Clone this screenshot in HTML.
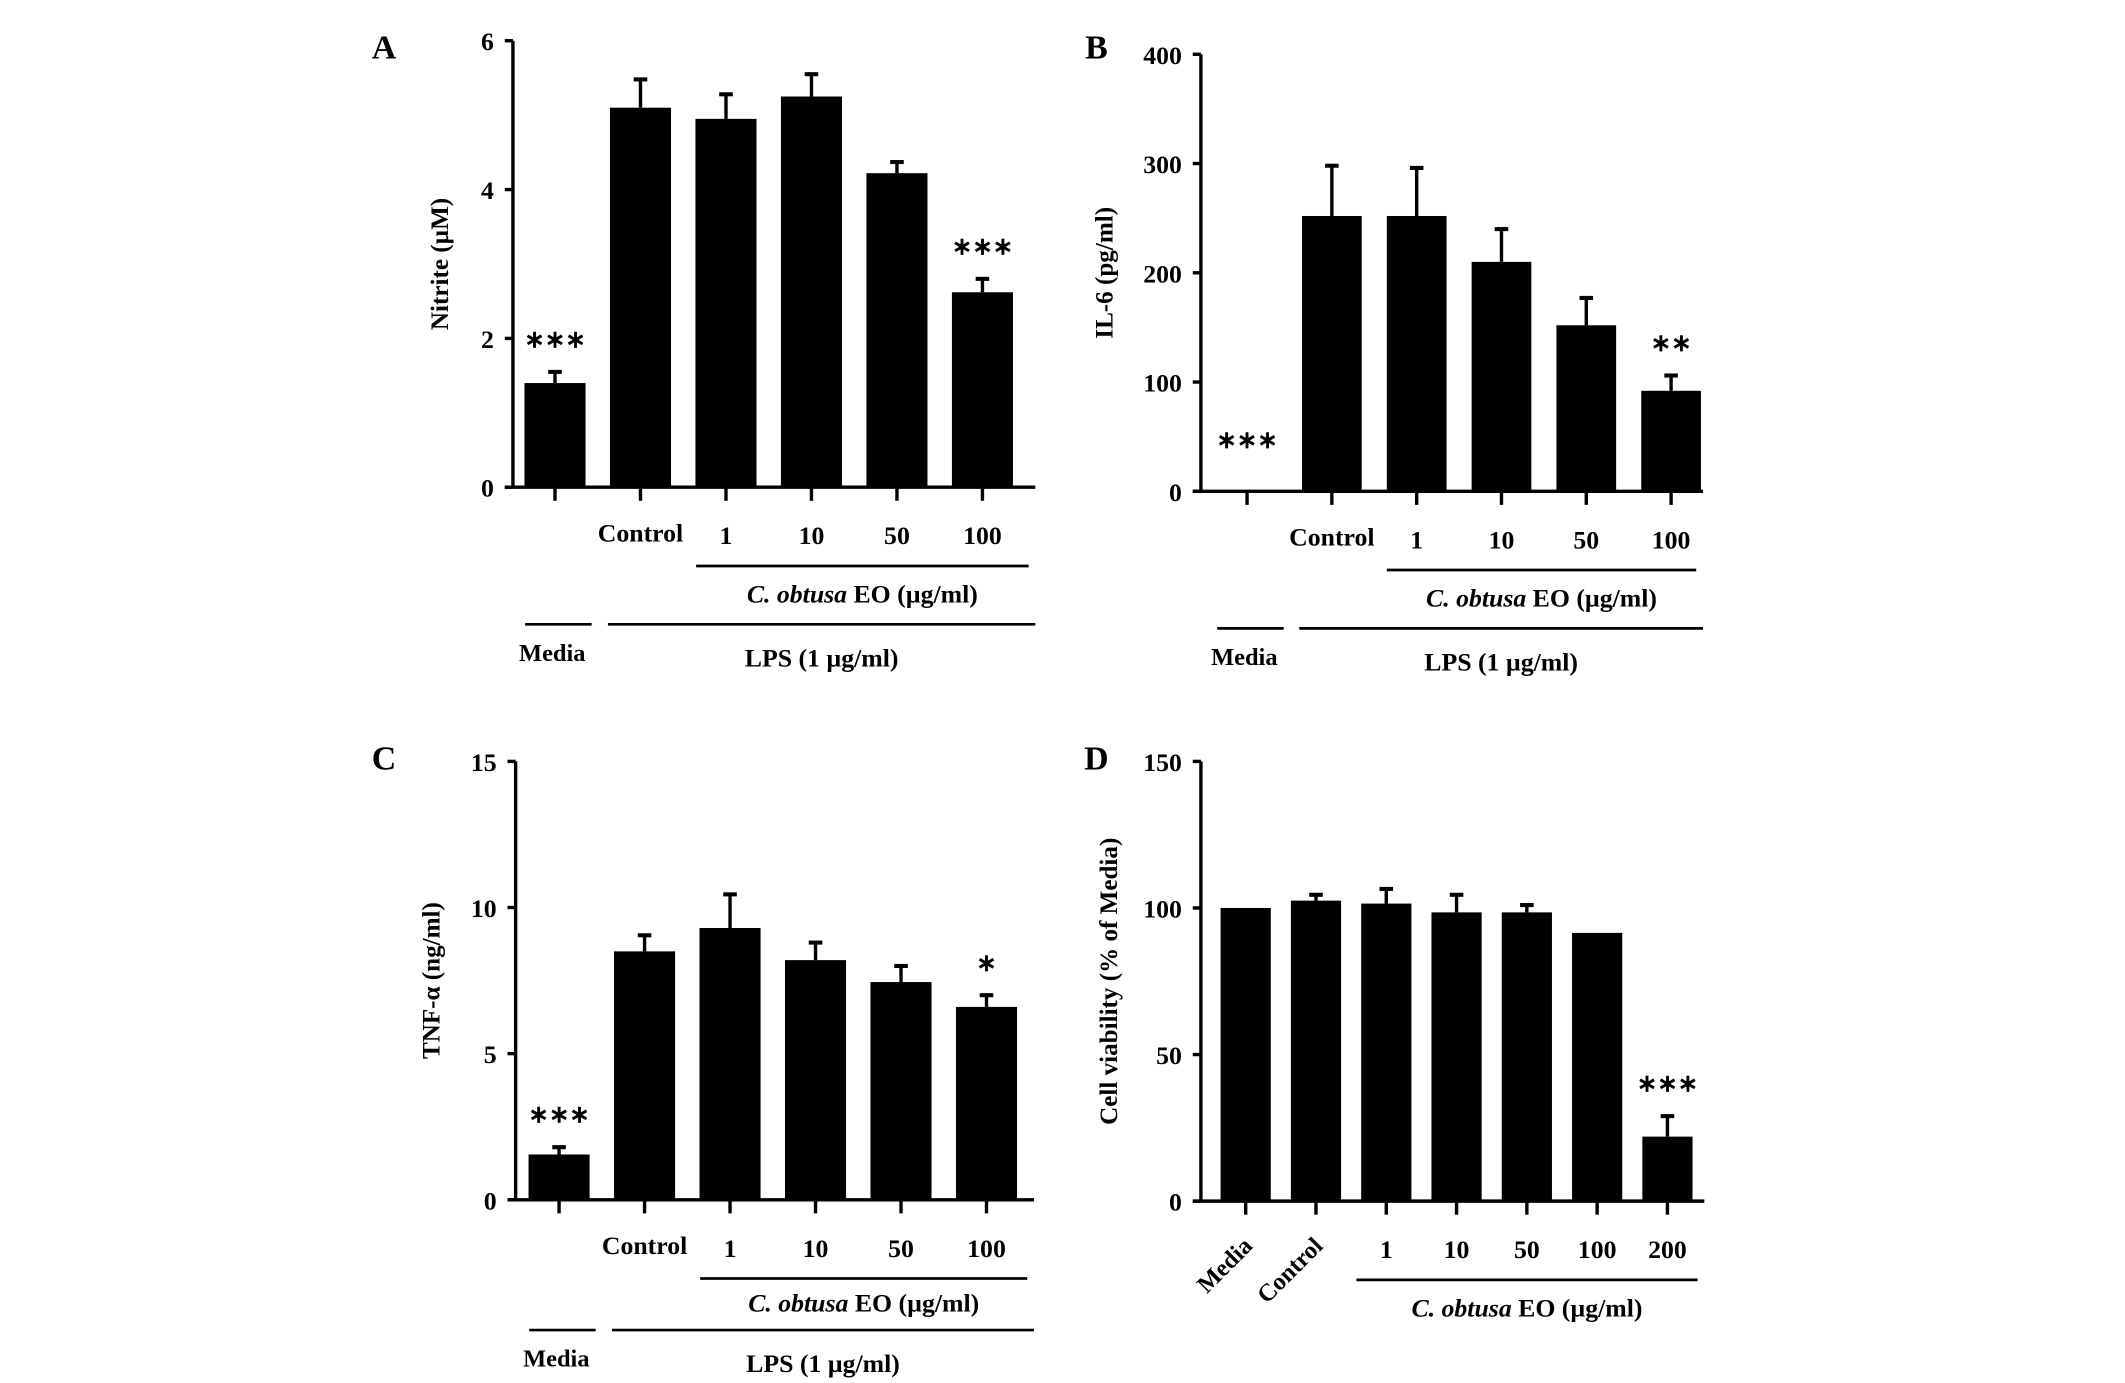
<!DOCTYPE html>
<html><head><meta charset="utf-8"><style>
html,body{margin:0;padding:0;background:#fff;}
svg{display:block;}
text{font-family:"Liberation Serif",serif;font-weight:bold;fill:#000;}
</style></head><body>
<svg id="fig" width="2125" height="1383" viewBox="0 0 1566 1019" preserveAspectRatio="none" xmlns="http://www.w3.org/2000/svg">
<text x="283" y="43" font-size="25" text-anchor="middle">A</text>
<text x="808" y="43" font-size="25" text-anchor="middle">B</text>
<text x="283" y="567" font-size="25" text-anchor="middle">C</text>
<text x="808" y="567" font-size="25" text-anchor="middle">D</text>
</svg>
<script>
const aValues=[1.4,5.1,4.95,5.25,4.22,2.62];
const aErrors=[0.15,0.38,0.33,0.3,0.15,0.18];
const aTicks=[0,2,4,6];
const aStars=["***","","","","","***"];
const bValues=[0,252,252,210,152,92];
const bErrors=[0,46,44,30,25,14];
const bTicks=[0,100,200,300,400];
const bStars=["***","","","","","**"];
const cValues=[1.55,8.5,9.3,8.2,7.45,6.6];
const cErrors=[0.25,0.55,1.15,0.6,0.55,0.4];
const cTicks=[0,5,10,15];
const cStars=["***","","","","","*"];
const dValues=[100,102.5,101.5,98.5,98.5,91.5,22];
const dErrors=[0,2,5,6,2.5,0,7];
const dTicks=[0,50,100,150];
const dStars=["","","","","","","***"];
const lpsCats=["Media","Control","1","10","50","100"];
const dCats=["Media","Control","1","10","50","100","200"];

const svg=document.getElementById('fig');
const NS="http://www.w3.org/2000/svg";
function mk(tag,attrs,txt){const e=document.createElementNS(NS,tag);for(const k in attrs)e.setAttribute(k,attrs[k]);if(txt!==undefined)e.textContent=txt;svg.appendChild(e);return e;}

function panel(p){
  const yS=v=>p.y0-(v-p.ticks[0])/(p.ticks[p.ticks.length-1]-p.ticks[0])*(p.y0-p.y1);
  const xS=i=>p.xFirst+i*p.step;
  const o=p.off||0;
  let e=mk('line',{x1:p.ax,x2:p.ax,y1:p.y1,y2:p.y0,stroke:'#000','stroke-width':2.5});
  
  
  e=mk('line',{x1:p.ax-6,x2:p.xEnd,y1:p.y0,y2:p.y0,stroke:'#000','stroke-width':2.5});
  
  
  p.ticks.forEach(t=>{
    const y=yS(t);
    e=mk('line',{x1:p.ax-6,x2:p.ax,y1:y,y2:y,stroke:'#000','stroke-width':2.5});
    
    
    e=mk('text',{x:p.ax-14,y:y+7,'font-size':19,'text-anchor':'end'},String(t));
    
    
  });
  p.values.forEach((v,i)=>{
    const cx=xS(i);
    e=mk('line',{x1:cx,x2:cx,y1:p.y0,y2:p.y0+10,stroke:'#000','stroke-width':2.5});
    
    
    if(p.errors[i]>0){
      const ye=yS(v+p.errors[i]);
      e=mk('line',{x1:cx,x2:cx,y1:ye,y2:yS(v),stroke:'#000','stroke-width':2.5});
      
      
      e=mk('line',{x1:cx-5,x2:cx+5,y1:ye,y2:ye,stroke:'#000','stroke-width':3});
      
      
    }
    const top=yS(v);
    e=mk('rect',{x:cx-p.bw/2,y:top,width:p.bw,height:Math.max(0,p.y0-top),fill:'#000'});
    
    
    if(p.stars[i]){
      const sy=yS(v+p.errors[i])-18;
      e=mk('text',{x:cx,y:(v===0?p.y0-32:sy),'font-size':18,'font-weight':'normal','text-anchor':'middle'},p.stars[i].replace(/\*/g,'\u2217'));
      
      
    }
  });
  p.cats.forEach((c,i)=>{
    const cx=xS(i);
    if(p.rotate && i<2){
      e=mk('text',{x:cx+6,y:p.y0+34,'font-size':18,'text-anchor':'end',transform:`rotate(-45 ${cx+6} ${p.y0+34})`},c);
    } else if(c==='Media'){
      e=mk('text',{x:cx-2,y:p.y0+128+o,'font-size':18,'text-anchor':'middle'},c);
    } else {
      e=mk('text',{x:cx,y:p.y0+(c==='Control'?40:42),'font-size':19,'text-anchor':'middle'},c);
    }
    
    
  });
  const s=xS(2)-22, eEnd=p.xEnd-5;
  e=mk('line',{x1:s,x2:eEnd,y1:p.y0+58,y2:p.y0+58,stroke:'#000','stroke-width':2});
  
  
  e=mk('text',{x:(s+eEnd)/2,y:p.y0+85+o/2,'font-size':19,'text-anchor':'middle'});
  
  
  const it=document.createElementNS(NS,'tspan');it.setAttribute('font-style','italic');it.textContent='C. obtusa';e.appendChild(it);
  e.appendChild(document.createTextNode(' EO (\u00b5g/ml)'));
  if(!p.rotate){
    e=mk('line',{x1:xS(0)-22,x2:xS(0)+27,y1:p.y0+101+o,y2:p.y0+101+o,stroke:'#000','stroke-width':2});
    
    
    e=mk('line',{x1:xS(1)-24,x2:p.xEnd,y1:p.y0+101+o,y2:p.y0+101+o,stroke:'#000','stroke-width':2});
    
    
    e=mk('text',{x:(xS(1)-24+p.xEnd)/2,y:p.y0+132+o,'font-size':19,'text-anchor':'middle'},'LPS (1 \u00b5g/ml)');
    
    
  }
  const ty=(p.y0+p.y1)/2;
  e=mk('text',{x:p.tx,y:ty,'font-size':18.5,'text-anchor':'middle',transform:`rotate(-90 ${p.tx} ${ty})`},p.title);
  
  
}
panel({id:'panel-a',values:aValues,errors:aErrors,ticks:aTicks,stars:aStars,cats:lpsCats,ax:378,y0:359,y1:30,xFirst:409,step:63,bw:45,xEnd:763,tx:330,title:'Nitrite  (\u00b5M)'});
panel({id:'panel-b',values:bValues,errors:bErrors,ticks:bTicks,stars:bStars,cats:lpsCats,ax:885,y0:362,y1:40,xFirst:919,step:62.5,bw:44,xEnd:1255,tx:820,title:'IL-6 (pg/ml)'});
panel({id:'panel-c',values:cValues,errors:cErrors,ticks:cTicks,stars:cStars,cats:lpsCats,off:-5,ax:380,y0:884,y1:561,xFirst:412,step:63,bw:45,xEnd:762,tx:324,title:'TNF-\u03b1 (ng/ml)'});
panel({id:'panel-d',values:dValues,errors:dErrors,ticks:dTicks,stars:dStars,cats:dCats,rotate:true,ax:885,y0:885,y1:561,xFirst:918,step:51.8,bw:37,xEnd:1256,tx:823,title:'Cell viability  (% of Media)'});
</script>
</body></html>
